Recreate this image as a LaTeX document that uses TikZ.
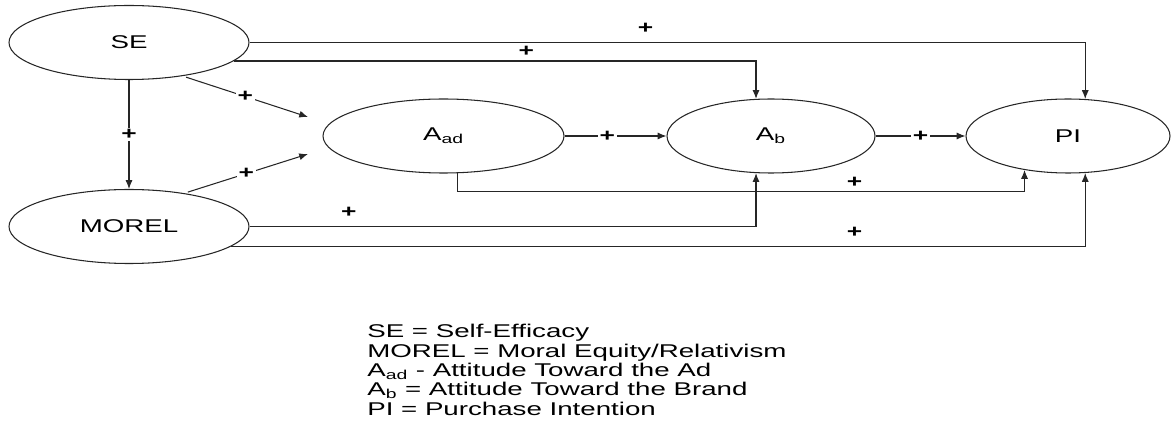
\documentclass[tikz,border=0pt]{standalone}
\usepackage{fontspec}
\setmainfont{Liberation Sans}[FakeStretch=1.5]
\usetikzlibrary{arrows.meta, shapes.geometric}
\tikzstyle{construct} = [
    ellipse,
    draw = black!85,
    line width = 0.6pt,
    inner sep = 0pt,
    minimum height = 1.48cm,
    font = \fontsize{10.5}{12}\selectfont
]
\tikzstyle{link} = [
    ->,
    draw = black!85,
    line width = 0.6pt
]
\tikzstyle{sign} = [
    font = \fontsize{10}{12}\selectfont\bfseries,
    inner sep = 1pt
]
\tikzstyle{onsign} = [
    sign,
    fill = white
]

\begin{document}
\begin{tikzpicture}[>={Latex[length=5pt,width=4pt]}]

        \useasboundingbox (0,0) rectangle (23.42,-8.64);

        %% Constructs
        \node (se)    [construct, minimum width=4.8cm]  at (2.58,-0.85)  {SE};
        \node (morel) [construct, minimum width=4.8cm]  at (2.58,-4.53)  {MOREL};
        \node (aad)   [construct, minimum width=4.82cm] at (8.87,-2.72)  {A\textsubscript{ad}};
        \node (ab)    [construct, minimum width=4.16cm] at (15.42,-2.72) {A\textsubscript{b}};
        \node (pi)    [construct, minimum width=4.08cm] at (21.36,-2.72) {PI};

        %% Free ends of the arrows towards A_ad
        \coordinate (aadtop) at (6.16,-2.34);
        \coordinate (aadbot) at (6.16,-3.08);

        %% Direct paths
        \draw[link] (se) -- node[onsign]{+} (morel);
        \draw[link, shorten <=2pt] (se.-32) -- node[onsign]{+} (aadtop);
        \draw[link, shorten <=2pt] (morel.31) -- node[onsign]{+} (aadbot);
        \draw[link] (aad) -- node[onsign, pos=0.42]{+} (ab);
        \draw[link] (ab) -- node[onsign]{+} (pi);

        %% Long paths
        \draw[link] (se.east) -| node[sign, pos=0.237, above=4pt]{+} (pi.65);
        \draw[link] (se.-10) -| node[sign, pos=0.28, above=1pt]{+} (ab.112);
        \draw[link] (aad.-69) -- ++(0,-0.36) -| node[sign, pos=0.35, above=1pt]{+} (pi.-142);
        \draw[link] (morel.east) -| node[sign, pos=0.098, above=4pt]{+} (ab.-112);
        \draw[link] (morel.-11) -| node[sign, pos=0.365, above=4pt]{+} (pi.-65);

        %% Key
        \node (key) [anchor=north west, align=left, inner sep=0pt, font=\fontsize{10.5}{11}\selectfont] at (7.34,-6.48) {SE = Self-Efficacy\\
            MOREL = Moral Equity/Relativism\\
            A\textsubscript{ad} - Attitude Toward the Ad\\
            A\textsubscript{b} = Attitude Toward the Brand\\
            PI = Purchase Intention};

\end{tikzpicture}
\end{document}
